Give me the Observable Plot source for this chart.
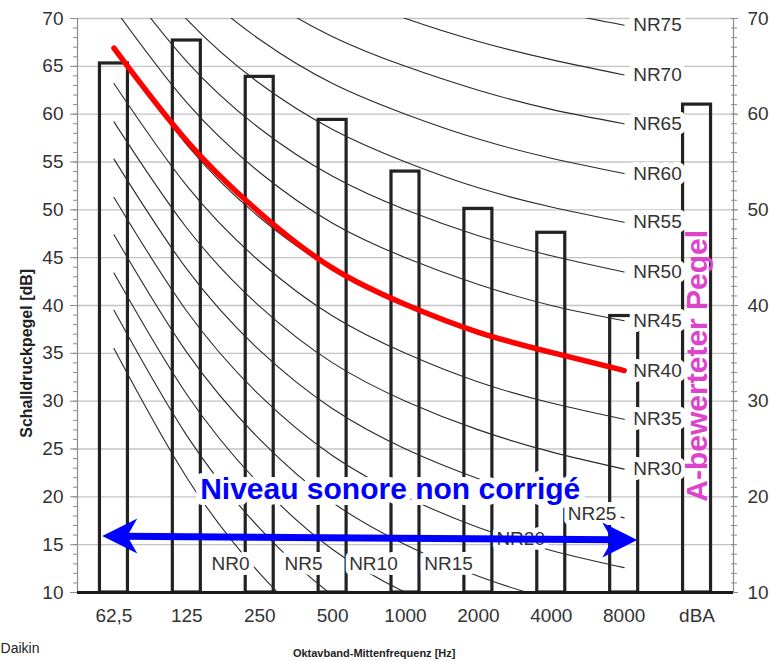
<!DOCTYPE html>
<html><head><meta charset="utf-8">
<script src="https://cdn.jsdelivr.net/npm/d3@7"></script>
<script src="https://cdn.jsdelivr.net/npm/@observablehq/plot@0.6"></script>
<style>body{margin:0;background:#fff}</style>
</head><body><div id="chart"></div>
<script>
// ---- data ----
const freqLabels = ["62,5", "125", "250", "500", "1000", "2000", "4000", "8000", "dBA"];
const barValues = [65.3, 67.7, 63.9, 59.4, 54.0, 50.1, 47.6, 38.9, 61.0];

// NR curves read at 62,5 … 8000 Hz
const nrLevels = [0, 5, 10, 15, 20, 25, 30, 35, 40, 45, 50, 55, 60, 65, 70, 75];
const nr0  = [35.5, 22.0, 12.0,  4.8,  0.0, -3.5, -6.1, -8.0];
const nr5  = [39.5, 26.4, 16.7,  9.7,  5.0,  1.6, -1.0, -2.9];
const nr10 = [43.4, 30.7, 21.3, 14.5, 10.0,  6.7,  4.2,  2.3];
const nr15 = [47.4, 35.1, 26.0, 19.4, 15.0, 11.7,  9.3,  7.5];
const nr20 = [51.3, 39.4, 30.6, 24.3, 20.0, 16.8, 14.4, 12.6];
const nr25 = [55.3, 43.8, 35.3, 29.2, 25.0, 21.9, 19.5, 17.8];
const nr30 = [59.2, 48.1, 39.9, 34.0, 30.0, 27.0, 24.7, 22.9];
const nr35 = [63.2, 52.5, 44.6, 38.9, 35.0, 32.0, 29.8, 28.1];
const nr40 = [67.1, 56.8, 49.2, 43.8, 40.0, 37.1, 34.9, 33.2];
const nr45 = [71.1, 61.2, 53.9, 48.6, 45.0, 42.2, 40.0, 38.4];
const nr50 = [75.0, 65.5, 58.5, 53.5, 50.0, 47.3, 45.2, 43.5];
const nr55 = [79.0, 69.9, 63.2, 58.4, 55.0, 52.3, 50.3, 48.7];
const nr60 = [82.9, 74.2, 67.8, 63.2, 60.0, 57.4, 55.4, 53.8];
const nr65 = [86.9, 78.6, 72.5, 68.1, 65.0, 62.5, 60.5, 59.0];
const nr70 = [90.8, 82.9, 77.1, 73.0, 70.0, 67.6, 65.7, 64.1];
const nr75 = [94.8, 87.3, 81.8, 77.9, 75.0, 72.6, 70.8, 69.3];
const nrCurves = [nr0, nr5, nr10, nr15, nr20, nr25, nr30, nr35, nr40, nr45, nr50, nr55, nr60, nr65, nr70, nr75];

// red highlighted curve
const redValues = [66.9, 57.2, 49.7, 43.9, 40.1, 37.2, 35.1, 33.2];

// NR labels drawn at the right end (NR30 … NR75) and inside the chart (NR0 … NR25)
const rightLabelLevels = [30, 35, 40, 45, 50, 55, 60, 65, 70, 75];
const lowLabels = ["NR0", "NR5", "NR10", "NR15", "NR20", "NR25"];
const lowLabelX = [1.60, 2.60, 3.56, 4.59, 5.58, 6.56];
const lowLabelY = [13.0, 13.0, 13.0, 13.0, 15.6, 18.2];

// annotations
const arrowX = [-0.16, 7.18];
const arrowY = [15.9, 15.5];
const blueText = "Niveau sonore non corrigé";
const blueTextPos = [3.79, 20.8];
const magentaText = "A-bewerteter Pegel";
const magentaTextPos = [8, 33.7];
const yTitle = "Schalldruckpegel [dB]";
const yTitlePos = [-1.19, 35.0];
const xTitle = "Oktavband-Mittenfrequenz [Hz]";
const xTitlePos = [3.57, 3.62];
const source = "Daikin";
const sourcePos = [-1.556, 4.1];

// ticks
const leftTicks = [10, 15, 20, 25, 30, 35, 40, 45, 50, 55, 60, 65, 70];
const rightTicks = [10, 20, 30, 40, 50, 60, 70];
const gridTicks = [15, 20, 25, 30, 35, 40, 45, 50, 55, 60, 65, 70];
const minorTicks = d3.range(10, 71, 1);

// ---- derived tables ----
const idx9 = d3.range(9);
const idx8 = d3.range(8);
const nrRows = nrLevels.flatMap((nr, k) => nrCurves[k].map((v, i) => ({nr, i, v})));

const NARROW = "'Liberation Sans Narrow', 'Arial Narrow', 'Liberation Sans', Arial, sans-serif";
const SANS = "'Liberation Sans', Arial, sans-serif";

const headLeft = {draw(ctx) { ctx.moveTo(0, 0); ctx.lineTo(35, -17.5); ctx.lineTo(25, 0); ctx.lineTo(35, 17.5); ctx.closePath(); }};
const headRight = {draw(ctx) { ctx.moveTo(0, 0); ctx.lineTo(-35, -17.5); ctx.lineTo(-25, 0); ctx.lineTo(-35, 17.5); ctx.closePath(); }};

const labelStyle = {fontFamily: NARROW, fontSize: 19, fill: "#333", stroke: "white", strokeWidth: 10, strokeLinejoin: "round", paintOrder: "stroke"};

const chart = Plot.plot({
  width: 770, height: 661,
  marginLeft: 77, marginRight: 37, marginTop: 18, marginBottom: 69,
  x: {type: "linear", domain: [-0.5, 8.5], axis: null},
  y: {type: "linear", domain: [10, 70], axis: null},
  style: {background: "white"},
  marks: [
    Plot.gridY(gridTicks, {stroke: "#c4c4c4", strokeOpacity: 1, strokeWidth: 1.4}),
    Plot.ruleX([-0.5, 8.5], {stroke: "#8c8c8c", strokeWidth: 1.2}),
    Plot.axisY(minorTicks, {anchor: "left", tickSize: 4, stroke: "#8c8c8c", tickFormat: () => "", label: null}),
    Plot.axisY(leftTicks, {anchor: "left", tickSize: 7, tickPadding: 7, stroke: "#8c8c8c", fill: "#333",
      fontSize: 19, fontFamily: NARROW, label: null}),
    Plot.axisY(minorTicks, {anchor: "right", tickSize: 6, dx: -3, stroke: "#8c8c8c", tickFormat: () => "", label: null}),
    Plot.axisY(rightTicks, {anchor: "right", tickSize: 4, tickPadding: 10, stroke: "#8c8c8c", fill: "#333",
      fontSize: 19, fontFamily: NARROW, label: null}),
    Plot.axisX(idx9, {anchor: "bottom", tickSize: 0, tickPadding: 16, tickFormat: i => freqLabels[i],
      fill: "#333", fontSize: 19, fontFamily: NARROW, label: null}),
    // bars
    Plot.rect(idx9, {x1: i => i - 0.5, x2: i => i + 0.5, y1: 10, y2: i => barValues[i],
      insetLeft: 22.45, insetRight: 22.45, fill: "none", stroke: "#222", strokeWidth: 3.2}),
    // NR curves
    Plot.line(nrRows, {x: "i", y: "v", z: "nr", curve: "natural", stroke: "#2a2a2a", strokeWidth: 1.1, clip: true}),
    // red curve
    Plot.line(idx8, {x: i => i, y: i => redValues[i], curve: "natural", stroke: "#ff0000", strokeWidth: 5.5}),
    // NR labels
    Plot.text(rightLabelLevels, {x: 7, y: nr => nrCurves[nrLevels.indexOf(nr)][7], text: nr => "NR" + nr,
      dx: 9, textAnchor: "start", ...labelStyle}),
    Plot.text(d3.range(lowLabels.length), {x: i => lowLabelX[i], y: i => lowLabelY[i], text: i => lowLabels[i], ...labelStyle}),
    // blue annotation
    Plot.text([blueText], {x: blueTextPos[0], y: blueTextPos[1], text: d => d, fontFamily: SANS, fontSize: 30,
      fontWeight: "bold", fill: "#0000ff", stroke: "white", strokeWidth: 12, strokeLinejoin: "round", paintOrder: "stroke"}),
    Plot.arrow([0], {x1: arrowX[0], y1: arrowY[0], x2: arrowX[1], y2: arrowY[1], bend: 0, headLength: 0,
      insetStart: 22, insetEnd: 22, stroke: "#0000ff", strokeWidth: 7}),
    Plot.dot([0], {x: arrowX[0], y: arrowY[0], symbol: headLeft, fill: "#0000ff", r: 10}),
    Plot.dot([0], {x: arrowX[1], y: arrowY[1], symbol: headRight, fill: "#0000ff", r: 10}),
    // magenta annotation
    Plot.text([magentaText], {x: magentaTextPos[0], y: magentaTextPos[1], text: d => d, rotate: -90,
      fontFamily: SANS, fontSize: 30, fontWeight: "bold", fill: "#dd44cc"}),
    // baseline
    Plot.ruleY([10], {stroke: "#1a1a1a", strokeWidth: 3}),
    // titles
    Plot.text([yTitle], {x: yTitlePos[0], y: yTitlePos[1], rotate: -90, text: d => d,
      fontFamily: SANS, fontWeight: "bold", fontSize: 16, fill: "#222"}),
    Plot.text([xTitle], {x: xTitlePos[0], y: xTitlePos[1], text: d => d,
      fontFamily: NARROW, fontWeight: "bold", fontSize: 11, fill: "#222"}),
    Plot.text([source], {x: sourcePos[0], y: sourcePos[1], textAnchor: "start", text: d => d,
      fontFamily: SANS, fontSize: 14, fill: "#222"})
  ]
});
document.getElementById("chart").append(chart);
</script>
</body></html>
